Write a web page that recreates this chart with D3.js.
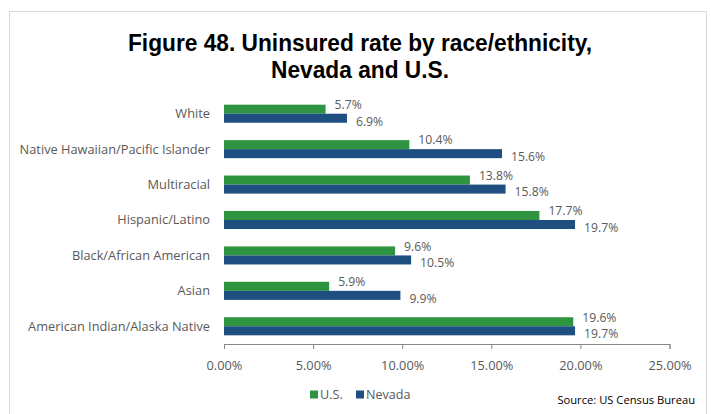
<!DOCTYPE html>
<html><head><meta charset="utf-8">
<script src="https://cdn.jsdelivr.net/npm/d3@7"></script>
<style>body{margin:0;background:#fff}svg{display:block}</style>
</head><body><svg id="c" width="711" height="414"></svg>
<script>
const categories = ["White","Native Hawaiian/Pacific Islander","Multiracial","Hispanic/Latino","Black/African American","Asian","American Indian/Alaska Native"];
const usValues = [5.7,10.4,13.8,17.7,9.6,5.9,19.6];
const nevadaValues = [6.9,15.6,15.8,19.7,10.5,9.9,19.7];
const seriesNames = ["U.S.","Nevada"];
const xTicks = [0,5,10,15,20,25];
const titleLines = ["Figure 48. Uninsured rate by race/ethnicity,","Nevada and U.S."];
const sourceText = "Source: US Census Bureau";

const colors = {"U.S.":"#2e9440","Nevada":"#1f4e80"};
const svg = d3.select("#c");
svg.append("rect").attr("x",9.5).attr("y",11.5).attr("width",697).attr("height",410)
  .attr("fill","#fff").attr("stroke","#d9d9d9");

const titleFont = "'Liberation Sans Narrow','Arial Narrow','Liberation Sans',Arial,sans-serif";
svg.append("text").attr("x",360).attr("y",51).attr("text-anchor","middle")
  .attr("font-family",titleFont).attr("font-weight","bold").attr("font-size",24).attr("fill","#000")
  .attr("textLength",464).attr("lengthAdjust","spacingAndGlyphs").text(titleLines[0]);
svg.append("text").attr("x",360).attr("y",78).attr("text-anchor","middle")
  .attr("font-family",titleFont).attr("font-weight","bold").attr("font-size",24).attr("fill","#000")
  .attr("textLength",178).attr("lengthAdjust","spacingAndGlyphs").text(titleLines[1]);

const x = d3.scaleLinear().domain([0,25]).range([224,669.5]);
const y = d3.scaleBand().domain(categories).range([96,344]).paddingInner(0.49).paddingOuter(0.245);
const sub = d3.scaleBand().domain(seriesNames).range([0,y.bandwidth()]);

const font = "'Open Sans',Carlito,Calibri,sans-serif";
const g = svg.append("g");
categories.forEach((c,i)=>{
  const vals = {"U.S.":usValues[i],"Nevada":nevadaValues[i]};
  seriesNames.forEach(s=>{
    const yy = y(c)+sub(s);
    g.append("rect").attr("x",x(0)).attr("y",yy).attr("width",x(vals[s])-x(0)).attr("height",sub.bandwidth())
      .attr("fill",colors[s]);
    g.append("text").attr("x",x(vals[s])+9).attr("y",yy+sub.bandwidth()/2+(s==="U.S."?-4.5:3))
      .attr("dy","0.35em").attr("font-family",font).attr("font-size",12.2).attr("fill","#595959")
      .text(vals[s].toFixed(1)+"%");
  });
  g.append("text").attr("x",210).attr("y",y(c)+y.bandwidth()/2).attr("dy","0.35em")
    .attr("text-anchor","end").attr("font-family",font).attr("font-size",12.8).attr("fill","#595959").text(c);
});

const axis = svg.append("g").attr("transform","translate(0,344)")
  .call(d3.axisBottom(x).tickValues(xTicks).tickSize(5).tickPadding(12).tickFormat(d=>d.toFixed(2)+"%"));
axis.select(".domain").attr("stroke","#868686");
axis.selectAll(".tick line").attr("stroke","#868686");
axis.selectAll(".tick text").attr("font-family",font).attr("font-size",12.8).attr("fill","#595959");

const leg = svg.append("g");
const legX = {"U.S.":310,"Nevada":356};
seriesNames.forEach(s=>{
  leg.append("rect").attr("x",legX[s]).attr("y",390.5).attr("width",8).attr("height",8).attr("fill",colors[s]);
  leg.append("text").attr("x",legX[s]+10).attr("y",395).attr("dy","0.35em")
    .attr("font-family",font).attr("font-size",12.6).attr("fill","#595959").text(s);
});
svg.append("text").attr("x",695).attr("y",400).attr("dy","0.35em").attr("text-anchor","end")
  .attr("font-family",font).attr("font-size",11.2).attr("fill","#000").text(sourceText);
</script></body></html>
